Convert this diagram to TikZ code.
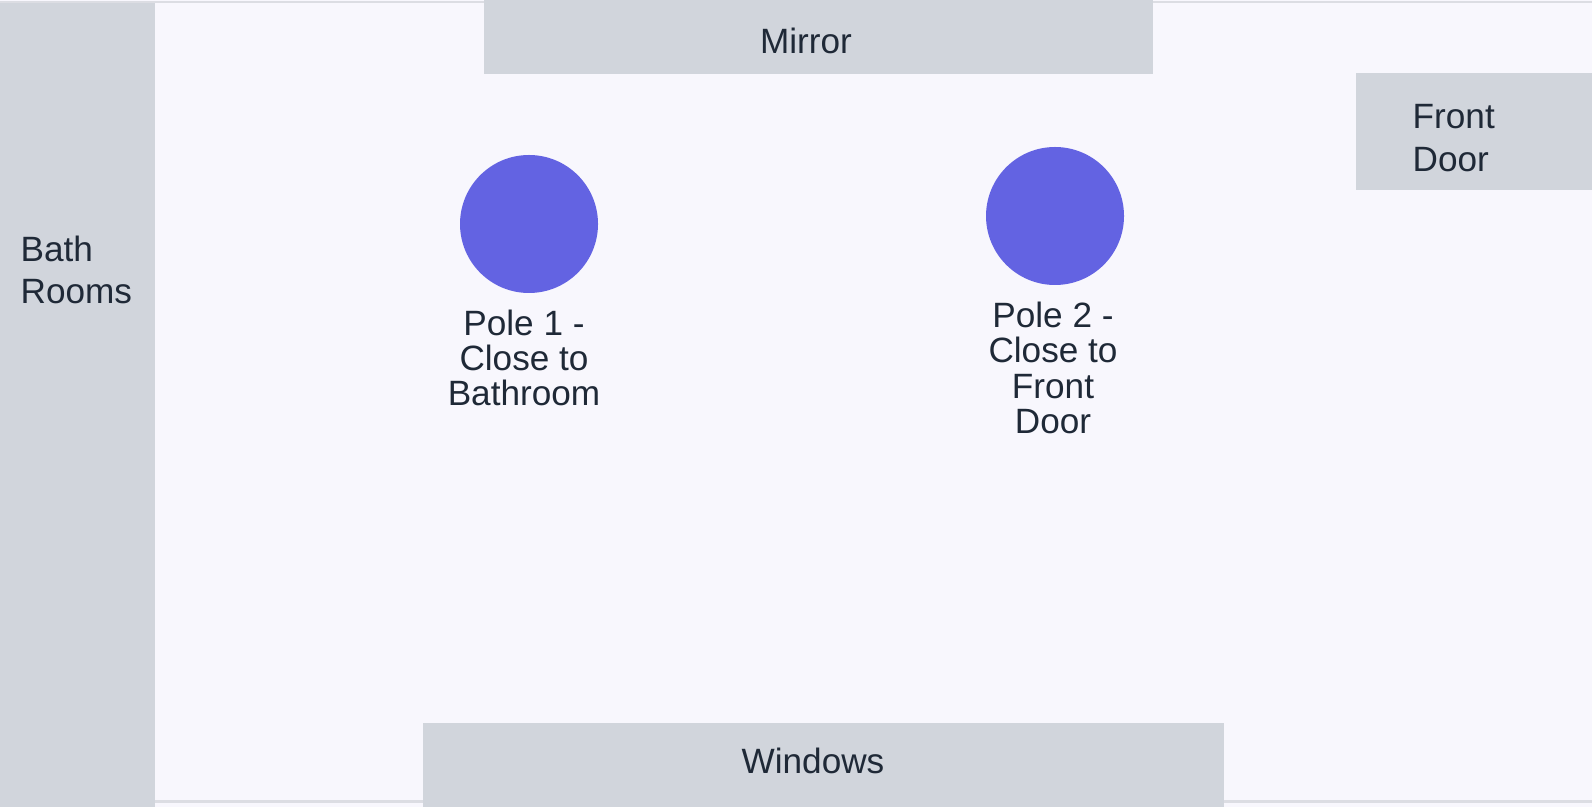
\documentclass[tikz,border=0pt]{standalone}
\usepackage{fontspec}
\setmainfont{Liberation Sans}
\definecolor{floorbg}{HTML}{F8F7FD}
\definecolor{wallgray}{HTML}{D1D5DC}
\definecolor{edgegray}{HTML}{DCDDE3}
\definecolor{polefill}{HTML}{6363E2}
\definecolor{inktext}{HTML}{1F2937}
\tikzset{
  wall/.style={fill=wallgray},
  walltext/.style={font=\fontsize{10}{12}\selectfont,text=inktext,align=left,inner sep=0pt},
  poletext/.style={font=\fontsize{10}{10}\selectfont,text=inktext,align=center,inner sep=0pt},
}
\begin{document}
\begin{tikzpicture}[x=0.01cm,y=-0.01cm]
% Floor and outer edges
\fill[floorbg] (0,0) rectangle (1592,807);
\useasboundingbox (0,0) rectangle (1592,807);
\fill[edgegray] (0,1) rectangle (1592,3);
\fill[edgegray] (155,800) rectangle (1592,803);

% Walls and fixtures
\fill[wall] (0,3) rectangle (155,807);
\fill[wall] (484,0) rectangle (1153,74);
\fill[wall] (1356,73) rectangle (1592,190);
\fill[wall] (423,723) rectangle (1224,807);

\node[walltext,anchor=west] (bath) at (20,270) {Bath\\Rooms};
\node[walltext] (mirror) at (806,41) {Mirror};
\node[walltext,anchor=west] (door) at (1412,138) {Front\\Door};
\node[walltext] (windows) at (813,761) {Windows};

% Poles
\fill[polefill] (529,224) circle (69) coordinate (pole1);
\fill[polefill] (1055,216) circle (69) coordinate (pole2);
\node[poletext] (pole1label) at (524,358) {Pole 1 -\\Close to\\Bathroom};
\node[poletext] (pole2label) at (1053,368) {Pole 2 -\\Close to\\Front\\Door};
\end{tikzpicture}
\end{document}
